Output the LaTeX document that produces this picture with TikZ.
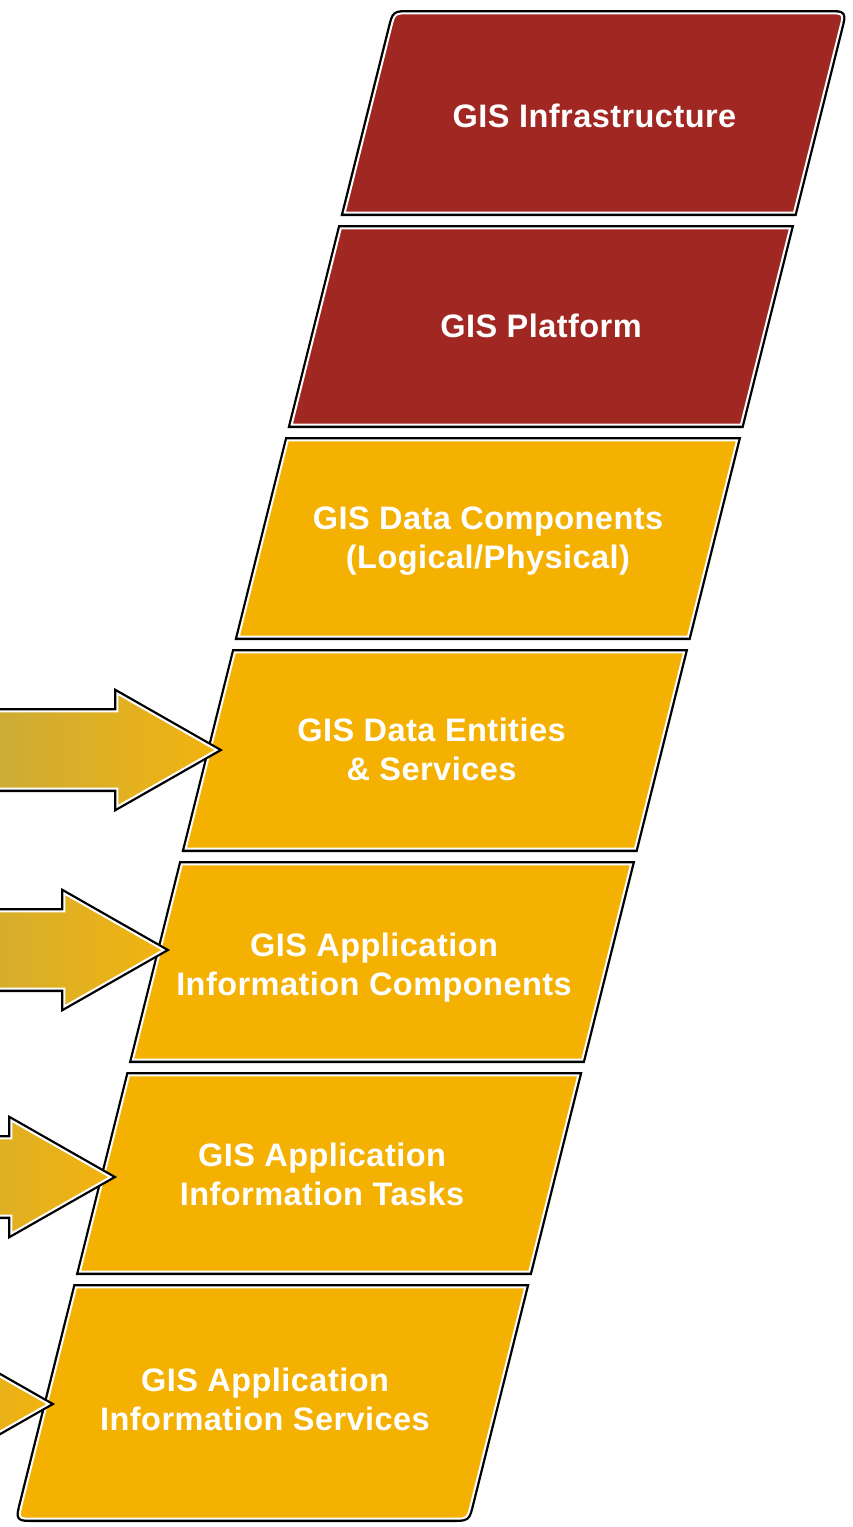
\documentclass[tikz,border=0pt]{standalone}
\usepackage{fontspec}
\setmainfont{Liberation Sans}
\newfontfamily\boxfont[LetterSpace=1.4]{Liberation Sans}
\usetikzlibrary{calc}
\definecolor{gisred}{HTML}{A12822}
\definecolor{gisgold}{HTML}{F5B102}
\definecolor{arrowleft}{HTML}{B9A84A}
\definecolor{arrowright}{HTML}{F2B30F}

\newcommand\giscoords[3]{%
  \pgfmathsetmacro\gisyt{#2+3.3}%
  \pgfmathsetmacro\gisyb{#3-3.3}%
  \coordinate (#1tl) at ({397.9-0.25*\gisyt},\gisyt);
  \coordinate (#1tr) at ({847.1-0.25*\gisyt},\gisyt);
  \coordinate (#1bl) at ({397.9-0.25*\gisyb},\gisyb);
  \coordinate (#1br) at ({847.1-0.25*\gisyb},\gisyb);
}
\newcommand\gisbox[2]{%
  \path[layered,fill=#2] (#1bl) -- (#1tl) -- (#1tr) -- (#1br) -- cycle;
}
\newcommand\gisarrow[2]{% tip x, centre y (outer edges)
  \pgfmathsetmacro\gishb{#1-109+3.3}%
  \pgfmathsetmacro\gistip{#1-6.6}%
  \pgfmathsetmacro\gisleft{#1-336}%
  \path[layered,left color=arrowleft,right color=arrowright]
    (\gisleft,#2-38.7) -- (\gishb,#2-38.7) -- (\gishb,#2-56.5) -- (\gistip,#2)
    -- (\gishb,#2+56.5) -- (\gishb,#2+38.7) -- (\gisleft,#2+38.7) -- cycle;
}

\begin{document}
\begin{tikzpicture}[x=1pt,y=-1pt,
  layered/.style={preaction={draw=black,line width=6.6pt},
                  postaction={draw=white,line width=2pt}},
  boxtext/.style={text=white,font=\boxfont\bfseries\fontsize{32.5}{39}\selectfont,
                  align=center,inner sep=0pt}]
\useasboundingbox (0,0) rectangle (853,1527);
\clip (0,0) rectangle (853,1527);

\giscoords{b1}{10}{216}
\giscoords{b2}{225}{428}
\giscoords{b3}{437}{640}
\giscoords{b4}{649}{852}
\giscoords{b5}{861}{1063}
\giscoords{b6}{1072}{1275}
\giscoords{b7}{1284}{1522}

% top box with rounded upper corners
\path[layered,fill=gisred] (b1bl) -- ($(b1tl)+(-3.6,14.5)$) .. controls (b1tl) .. ($(b1tl)+(15,0)$)
  -- ($(b1tr)+(-15,0)$) .. controls (b1tr) .. ($(b1tr)+(-3.6,14.5)$) -- (b1br) -- cycle;
\gisbox{b2}{gisred}
\gisbox{b3}{gisgold}
\gisbox{b4}{gisgold}
\gisbox{b5}{gisgold}
\gisbox{b6}{gisgold}
% bottom box with rounded lower corners
\path[layered,fill=gisgold] (b7tl) -- (b7tr) -- ($(b7br)+(3.6,-14.5)$) .. controls (b7br) .. ($(b7br)+(-15,0)$)
  -- ($(b7bl)+(15,0)$) .. controls (b7bl) .. ($(b7bl)+(3.6,-14.5)$) -- cycle;

\node[boxtext] (t1) at (594.5,115.4) {GIS Infrastructure};
\node[boxtext] (t2) at (541,325.4) {GIS Platform};
\node[boxtext] (t3) at (488,541.5) {GIS Data Components\\(Logical/Physical)};
\node[boxtext] (t4) at (431.5,749.5) {GIS Data Entities\\\& Services};
\node[boxtext] (t5) at (374,967.5) {GIS Application\\Information Components};
\node[boxtext] (t6) at (322,1174.5) {GIS Application\\Information Tasks};
\node[boxtext] (t7) at (265,1399) {GIS Application\\Information Services};

\gisarrow{223}{750}
\gisarrow{170}{950}
\gisarrow{117}{1177}
\gisarrow{55}{1404}
\end{tikzpicture}
\end{document}
